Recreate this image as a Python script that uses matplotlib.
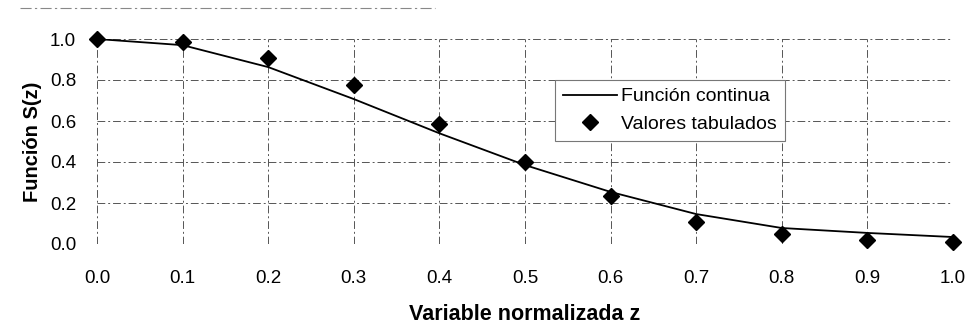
import matplotlib.pyplot as plt

plt.rcParams['font.family'] = ['Liberation Sans', 'DejaVu Sans']

# normalized variable z
z = [0.0, 0.1, 0.2, 0.3, 0.4, 0.5, 0.6, 0.7, 0.8, 0.9, 1.0]
# continuous function S(z)
s_cont = [1.0, 0.97, 0.863, 0.707, 0.54, 0.385, 0.254, 0.146, 0.078, 0.054, 0.034]
# tabulated values
s_tab = [1.0, 0.985, 0.907, 0.776, 0.585, 0.40, 0.234, 0.107, 0.049, 0.02, 0.01]

xticks = [0.0, 0.1, 0.2, 0.3, 0.4, 0.5, 0.6, 0.7, 0.8, 0.9, 1.0]
yticks = [0.0, 0.2, 0.4, 0.6, 0.8, 1.0]

fig = plt.figure(figsize=(9.74, 3.25), dpi=100)
ax = fig.add_axes([97 / 974, 81 / 325, 856 / 974, 205 / 325])

ax.plot(z, s_cont, color='black', lw=1.3, label='Función continua', zorder=3)
ax.plot(z, s_tab, linestyle='none', marker='D', color='black', markersize=8,
        label='Valores tabulados', clip_on=False, zorder=4)

ax.set_xlim(0, 1.0)
ax.set_ylim(0, 1.0)
ax.set_xticks(xticks)
ax.set_yticks(yticks)
ax.set_xticklabels([f'{v:.1f}' for v in xticks], fontsize=13.5)
ax.set_yticklabels([f'{v:.1f}' for v in yticks], fontsize=13.5)
ax.tick_params(length=0, pad=15, axis='y')
ax.tick_params(length=0, pad=19, axis='x')

ax.grid(True, color='#555555', lw=0.7, linestyle=(0, (8, 3, 2, 3)))
for sp in ax.spines.values():
    sp.set_visible(False)

ax.set_xlabel('Variable normalizada z', fontsize=15.5, fontweight='bold', labelpad=12)
ax.set_ylabel('Función S(z)', fontsize=14.5, fontweight='bold', labelpad=6)

leg = ax.legend(loc='upper left', bbox_to_anchor=(555 / 974, 245 / 325),
                bbox_transform=fig.transFigure, fontsize=14, frameon=True,
                fancybox=False, framealpha=1, edgecolor='#777777',
                handlelength=2.8, handletextpad=0.2, borderpad=0.4,
                labelspacing=0.5, borderaxespad=0)
leg.get_frame().set_linewidth(0.8)

# faint rule along the top of the page
fig.add_artist(plt.Line2D([20 / 974, 435 / 974], [317 / 325, 317 / 325],
                          transform=fig.transFigure, color='#888888',
                          lw=0.8, linestyle=(0, (10, 3, 2, 3))))

fig.savefig('out.png', dpi=100)
